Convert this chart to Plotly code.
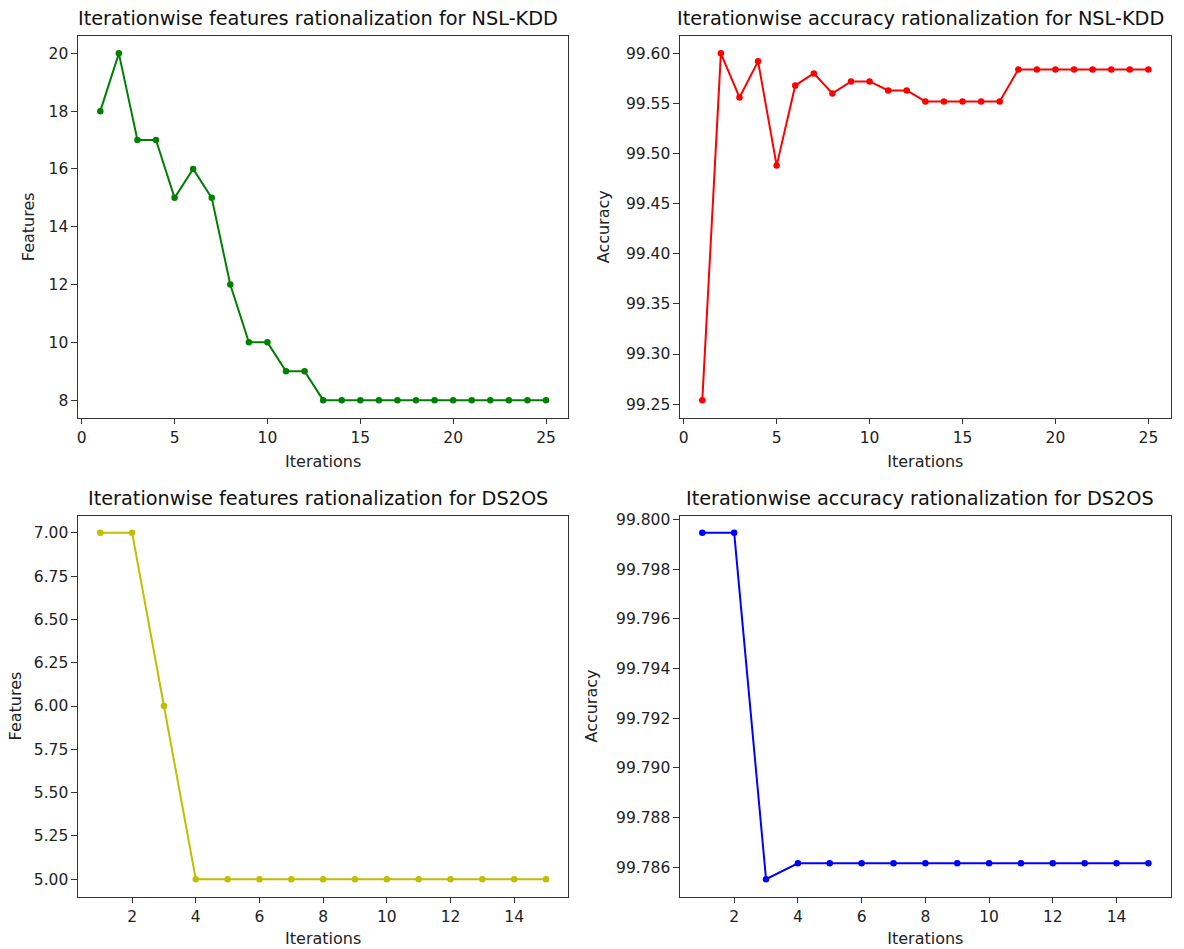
import plotly.graph_objects as go

# Data
iter_nsl = list(range(1, 26))
feat_nsl = [18, 20, 17, 17, 15, 16, 15, 12, 10, 10, 9, 9, 8, 8, 8, 8, 8, 8, 8, 8, 8, 8, 8, 8, 8]
acc_nsl = [99.254, 99.600, 99.556, 99.592, 99.488, 99.568, 99.580, 99.560, 99.572, 99.572,
           99.563, 99.563, 99.552, 99.552, 99.552, 99.552, 99.552, 99.584, 99.584, 99.584,
           99.584, 99.584, 99.584, 99.584, 99.584]
iter_ds = list(range(1, 16))
feat_ds = [7, 7, 6, 5, 5, 5, 5, 5, 5, 5, 5, 5, 5, 5, 5]
acc_ds = [99.79946, 99.79946, 99.78552, 99.78616, 99.78616, 99.78616, 99.78616, 99.78616,
          99.78616, 99.78616, 99.78616, 99.78616, 99.78616, 99.78616, 99.78616]

titles = ["Iterationwise features rationalization for NSL-KDD",
          "Iterationwise accuracy rationalization for NSL-KDD",
          "Iterationwise features rationalization for DS2OS",
          "Iterationwise accuracy rationalization for DS2OS"]

W, H = 1184, 949
xdom = [[78 / W, 568.3 / W], [680 / W, 1170.7 / W]]
ydom_top = [(H - 417.5) / H, (H - 36) / H]
ydom_bot = [(H - 896.5) / H, (H - 515.5) / H]

fig = go.Figure()
FONT = "DejaVu Sans"

def add(x, y, color, xa, ya):
    fig.add_trace(go.Scatter(x=x, y=y, mode="lines+markers", xaxis=xa, yaxis=ya,
                             line=dict(color=color, width=2),
                             marker=dict(color=color, size=6.5), showlegend=False,
                             hoverinfo="x+y"))

add(iter_nsl, feat_nsl, "#008000", "x", "y")
add(iter_nsl, acc_nsl, "#ff0000", "x2", "y2")
add(iter_ds, feat_ds, "#bfbf00", "x3", "y3")
add(iter_ds, acc_ds, "#0000ff", "x4", "y4")

def span(vals):
    lo, hi = min(vals), max(vals)
    m = (hi - lo) * 0.05
    return [lo - m, hi + m]

axis_common = dict(showline=True, mirror=True, linecolor="#333333", linewidth=1.2,
                   ticks="outside", ticklen=5.5, tickcolor="#333333", showgrid=False,
                   zeroline=False, automargin=False,
                   tickfont=dict(family=FONT, size=15.5, color="#222222"))

title_font = dict(family=FONT, size=16, color="#222222")

layout = dict(
    template="none",
    width=W, height=H, margin=dict(l=0, r=0, t=0, b=0),
    paper_bgcolor="white", plot_bgcolor="white", font=dict(family=FONT),
    xaxis=dict(domain=xdom[0], anchor="y", range=span(iter_nsl), tick0=0, dtick=5,
               title=dict(text="Iterations", font=title_font, standoff=10), **axis_common),
    yaxis=dict(domain=ydom_top, anchor="x", range=span(feat_nsl), tick0=0, dtick=2,
               title=dict(text="Features", font=title_font, standoff=9), **axis_common),
    xaxis2=dict(domain=xdom[1], anchor="y2", range=span(iter_nsl), tick0=0, dtick=5,
                title=dict(text="Iterations", font=title_font, standoff=10), **axis_common),
    yaxis2=dict(domain=ydom_top, anchor="x2", range=span(acc_nsl), tick0=99.25, dtick=0.05,
                tickformat=".2f",
                title=dict(text="Accuracy", font=title_font, standoff=12), **axis_common),
    xaxis3=dict(domain=xdom[0], anchor="y3", range=span(iter_ds), tick0=0, dtick=2,
                title=dict(text="Iterations", font=title_font, standoff=8), **axis_common),
    yaxis3=dict(domain=ydom_bot, anchor="x3", range=span(feat_ds), tick0=5, dtick=0.25,
                tickformat=".2f",
                title=dict(text="Features", font=title_font, standoff=8), **axis_common),
    xaxis4=dict(domain=xdom[1], anchor="y4", range=span(iter_ds), tick0=0, dtick=2,
                title=dict(text="Iterations", font=title_font, standoff=8), **axis_common),
    yaxis4=dict(domain=ydom_bot, anchor="x4", range=span(acc_ds), tick0=99.786, dtick=0.002,
                tickformat=".3f",
                title=dict(text="Accuracy", font=title_font, standoff=14), **axis_common),
)
fig.update_layout(**layout)

positions = [(xdom[0], ydom_top), (xdom[1], ydom_top), (xdom[0], ydom_bot), (xdom[1], ydom_bot)]
for t, (xd, yd) in zip(titles, positions):
    fig.add_annotation(text=t, xref="paper", yref="paper", x=(xd[0] + xd[1]) / 2 - 5 / W, y=yd[1],
                       xanchor="center", yanchor="bottom", yshift=4, showarrow=False,
                       font=dict(family=FONT, size=19.3, color="#111111"))

fig.write_html("out.html", config={"displayModeBar": False},
               post_script="document.body.style.margin='0px';document.body.style.overflow='hidden';")
